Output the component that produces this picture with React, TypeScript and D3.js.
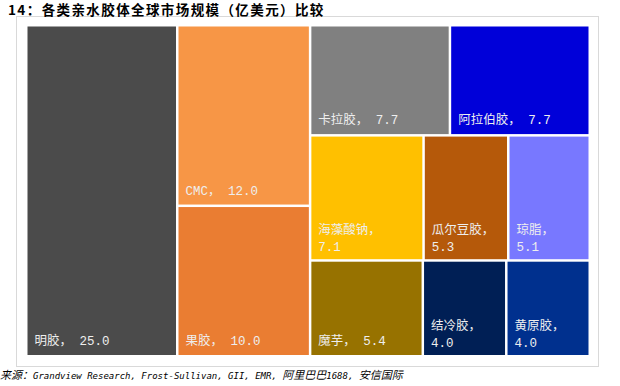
import React from "react";
import * as d3 from "d3";

const names = ["明胶", "CMC", "果胶", "卡拉胶", "阿拉伯胶", "海藻酸钠", "瓜尔豆胶", "琼脂", "魔芋", "结冷胶", "黄原胶"];
const values = [25.0, 12.0, 10.0, 7.7, 7.7, 7.1, 5.3, 5.1, 5.4, 4.0, 4.0];
const colors = ["#4b4b4b", "#f79646", "#ea7d32", "#808080", "#0000d9", "#ffc000", "#b5590a", "#7878ff", "#977200", "#001f55", "#00308e"];
// grouping of the layout: columns -> rows -> cells (indices into names)
const groups: number[][][] = [[[0]], [[1], [2]], [[3, 4], [5, 6, 7], [8, 9, 10]]];

const title = "14：各类亲水胶体全球市场规模（亿美元）比较";
const sourceCn1 = "来源：";
const sourceLatin = "Grandview Research, Frost-Sullivan, GII, EMR, ";
const sourceCn2 = "阿里巴巴";
const sourceNum = "1688, ";
const sourceCn3 = "安信国际";

const W = 620, H = 386;
const X0 = 27.5, Y0 = 26.5, X1 = 588.5, Y1 = 355;

function textW(s: string, cjk: number, lat: number) {
  let w = 0;
  for (const ch of s) w += /[\u3000-\u9fff\uff00-\uffef]/.test(ch) ? cjk : lat;
  return w;
}

export default function App() {
  const data: any = {
    name: "root",
    children: groups.map((col, ci) => ({
      name: "c" + ci,
      children: col.map((row, ri) => ({
        name: "r" + ci + ri,
        children: row.map((i) => ({ name: names[i], value: values[i], idx: i })),
      })),
    })),
  };
  const root = d3.hierarchy(data).sum((d: any) => d.value || 0);
  d3.treemap().tile(d3.treemapSliceDice).size([X1 - X0, Y1 - Y0]).paddingInner(2.5)(root as any);
  const leaves = root.leaves() as any[];
  const fs = 12.5, latW = 7.5;

  return (
    <svg width={W} height={H} style={{ position: "absolute", left: 0, top: 0, background: "#fff" }}>
      <rect x={16.5} y={16.5} width={582} height={350} fill="#fff" stroke="#d9d9d9" strokeWidth={1} />
      <text x={8} y={15} fontFamily="'Noto Sans CJK SC', sans-serif" fontWeight="bold" fontSize={13.5} letterSpacing={1.4} fill="#000">{title}</text>
      <g transform={`translate(${X0},${Y0})`}>
        {leaves.map((n) => {
          const i = n.data.idx;
          const label = names[i] + "，";
          const num = values[i].toFixed(1);
          const full = label + " " + num;
          const tw = textW(full, fs, latW);
          const wrap = tw + 24 > n.x1 - n.x0;
          const tx = n.x0 + 7;
          return (
            <g key={i}>
              <rect x={n.x0} y={n.y0} width={n.x1 - n.x0} height={n.y1 - n.y0} fill={colors[i]} />
              {wrap ? (
                <text fontFamily="'Liberation Mono', 'Noto Sans CJK SC', monospace" fontSize={fs} fill="#eeeeee">
                  <tspan x={tx} y={n.y1 - 25}>{label}</tspan>
                  <tspan x={tx} y={n.y1 - 8}>{num}</tspan>
                </text>
              ) : (
                <text x={tx} y={n.y1 - 10} fontFamily="'Liberation Mono', 'Noto Sans CJK SC', monospace" fontSize={fs} fill="#eeeeee" xmlSpace="preserve">{full}</text>
              )}
            </g>
          );
        })}
      </g>
      <text x={0} y={379} fontSize={11} fill="#000" fontStyle="italic">
        <tspan fontFamily="'Noto Sans CJK SC', sans-serif" fontSize={11}>{sourceCn1}</tspan>
        <tspan fontFamily="'DejaVu Sans Mono', monospace" fontSize={9}>{sourceLatin}</tspan>
        <tspan fontFamily="'Noto Sans CJK SC', sans-serif" fontSize={11}>{sourceCn2}</tspan>
        <tspan fontFamily="'DejaVu Sans Mono', monospace" fontSize={9}>{sourceNum}</tspan>
        <tspan fontFamily="'Noto Sans CJK SC', sans-serif" fontSize={11}>{sourceCn3}</tspan>
      </text>
    </svg>
  );
}
